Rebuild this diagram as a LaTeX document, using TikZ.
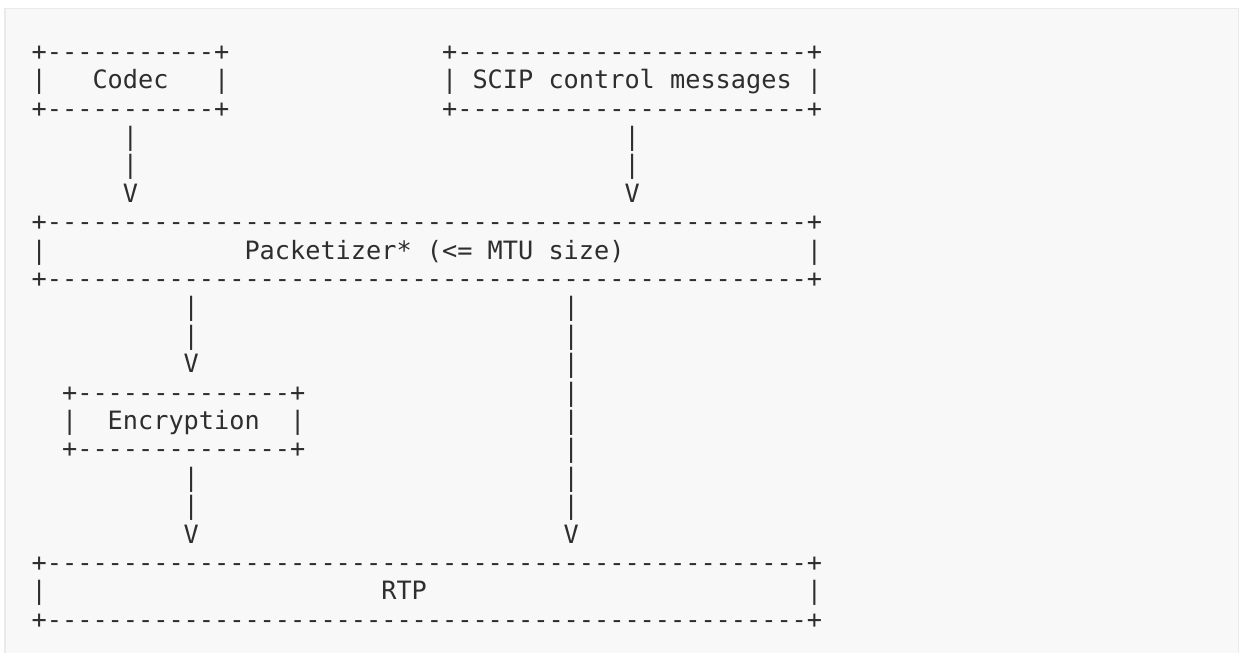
\documentclass[tikz,border=0pt]{standalone}
\usepackage{fontspec}
\setmonofont{DejaVu Sans Mono}
\definecolor{PanelClr}{HTML}{F8F8F8}
\definecolor{PanelLine}{HTML}{EAEAEA}
\definecolor{TextClr}{HTML}{2E2E2E}
\newcommand\asciibar[1]{+\foreach\i in {1,...,#1}{-}+}

\begin{document}
\begin{tikzpicture}[x=15.2pt,y=-28.4pt,
  ascii/.style={inner sep=0pt,outer sep=0pt,anchor=base west,text=TextClr,
    font=\ttfamily\fontsize{25.25pt}{28.4pt}\selectfont}]
\useasboundingbox (-2.0855,-2.1228) rectangle (79.493,20.835);
\draw[PanelLine,fill=PanelClr,line width=1.5pt] (-1.757,-1.824) rectangle (79.38,21.5);

\node[ascii] (codecTop) at (0,0) {\asciibar{11}};
\node[ascii] (codecL) at (0,1) {|};
\node[ascii] (codec) at (4,1) {Codec};
\node[ascii] (codecR) at (12,1) {|};
\node[ascii] (codecBot) at (0,2) {\asciibar{11}};

\node[ascii] (scipTop) at (27,0) {\asciibar{23}};
\node[ascii] (scipL) at (27,1) {|};
\node[ascii] (scip) at (29,1) {SCIP control messages};
\node[ascii] (scipR) at (51,1) {|};
\node[ascii] (scipBot) at (27,2) {\asciibar{23}};

\node[ascii] (codecA1) at (6,3) {|};
\node[ascii] (codecA2) at (6,4) {|};
\node[ascii] (codecTip) at (6,5) {V};
\node[ascii] (scipA1) at (39,3) {|};
\node[ascii] (scipA2) at (39,4) {|};
\node[ascii] (scipTip) at (39,5) {V};

\node[ascii] (pktTop) at (0,6) {\asciibar{50}};
\node[ascii] (pktL) at (0,7) {|};
\node[ascii] (pkt) at (14,7) {Packetizer* (<= MTU size)};
\node[ascii] (pktR) at (51,7) {|};
\node[ascii] (pktBot) at (0,8) {\asciibar{50}};

\node[ascii] (encA1) at (10,9) {|};
\node[ascii] (encA2) at (10,10) {|};
\node[ascii] (encTip) at (10,11) {V};

\node[ascii] (encTop) at (2,12) {\asciibar{14}};
\node[ascii] (encL) at (2,13) {|};
\node[ascii] (enc) at (5,13) {Encryption};
\node[ascii] (encR) at (17,13) {|};
\node[ascii] (encBot) at (2,14) {\asciibar{14}};

\foreach \r in {9,...,16}
  \node[ascii] (bypass\r) at (35,\r) {|};
\node[ascii] (bypassTip) at (35,17) {V};

\node[ascii] (rtpA1) at (10,15) {|};
\node[ascii] (rtpA2) at (10,16) {|};
\node[ascii] (rtpTip) at (10,17) {V};

\node[ascii] (rtpTop) at (0,18) {\asciibar{50}};
\node[ascii] (rtpL) at (0,19) {|};
\node[ascii] (rtp) at (23,19) {RTP};
\node[ascii] (rtpR) at (51,19) {|};
\node[ascii] (rtpBot) at (0,20) {\asciibar{50}};

\end{tikzpicture}
\end{document}
